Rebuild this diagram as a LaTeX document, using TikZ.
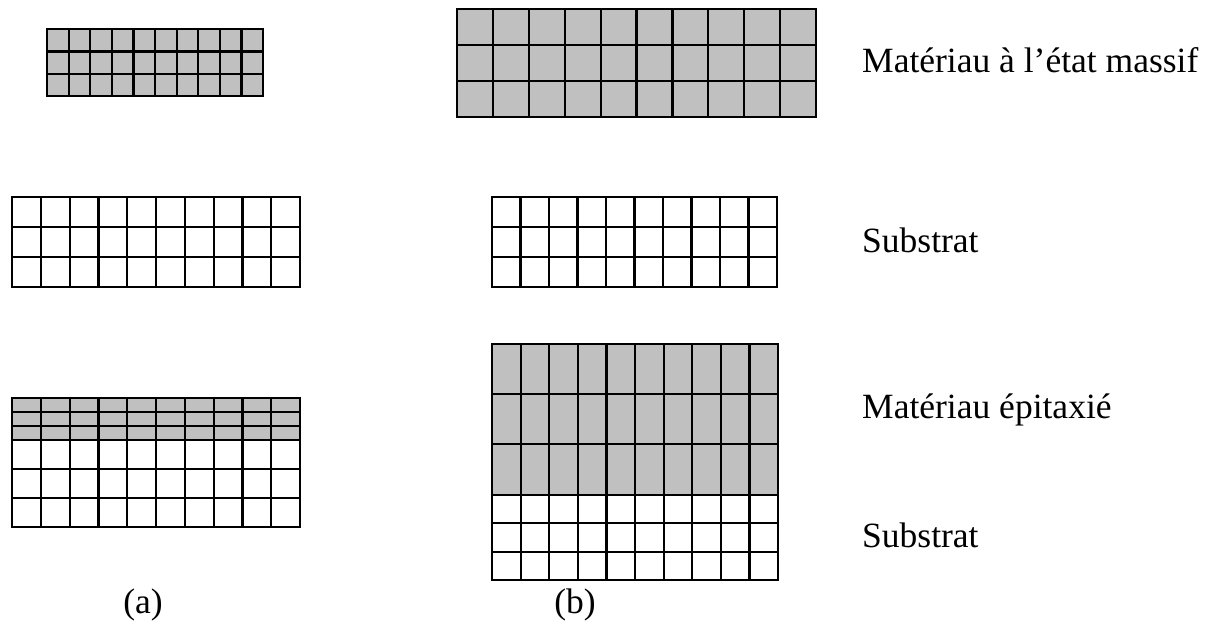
\documentclass[tikz,border=0pt]{standalone}
\usepackage{fontspec}
\setmainfont{Liberation Serif}
\definecolor{cellgrey}{HTML}{C0C0C0}
\newcommand\hlines[3]{\foreach \yy in {#3} \draw[gl] (#1,\yy) -- (#2,\yy);}
\newcommand\vlines[4]{\foreach \i in {0,...,10} \draw[gl] ({#1+\i*(#2-#1)/10},#3) -- ({#1+\i*(#2-#1)/10},#4);}
\begin{document}
\begin{tikzpicture}[x=1pt,y=-1pt,
  gl/.style={line width=2.2pt,line cap=rect,black},
  greyfill/.style={fill=cellgrey},
  lbl/.style={anchor=base west,inner sep=0pt,font=\fontsize{35.5}{40}\selectfont},
  capt/.style={anchor=center,inner sep=0pt,font=\fontsize{35.5}{40}\selectfont}]
\useasboundingbox (0,0) rectangle (1212,628);
% (a) top: bulk material
\fill[greyfill] (47,29) rectangle (263,96);
\hlines{47}{263}{29,51.5,74,96}
\vlines{47}{263}{29}{96}
% (b) top: bulk material
\fill[greyfill] (457,9) rectangle (816,117);
\hlines{457}{816}{9,45,81,117}
\vlines{457}{816}{9}{117}
% (a) substrate
\hlines{12}{300}{197,227,257,287}
\vlines{12}{300}{197}{287}
% (b) substrate
\hlines{492}{777}{197,227,257,287}
\vlines{492}{777}{197}{287}
% (a) epitaxy
\fill[greyfill] (12,398) rectangle (300,440);
\hlines{12}{300}{398,412,426,440,469,498,527}
\vlines{12}{300}{398}{527}
% (b) epitaxy
\fill[greyfill] (492,344) rectangle (778,495);
\hlines{492}{778}{344,394,444,495,523,552,580}
\vlines{492}{778}{344}{580}
% labels
\node[lbl] (l1) at (862,73) {Matériau à l’état massif};
\node[lbl] (l2) at (862,253) {Substrat};
\node[lbl] (l3) at (862,418) {Matériau épitaxié};
\node[lbl] (l4) at (862,547) {Substrat};
\node[capt] (ca) at (143,605) {(a)};
\node[capt] (cb) at (575,605) {(b)};
\end{tikzpicture}
\end{document}
